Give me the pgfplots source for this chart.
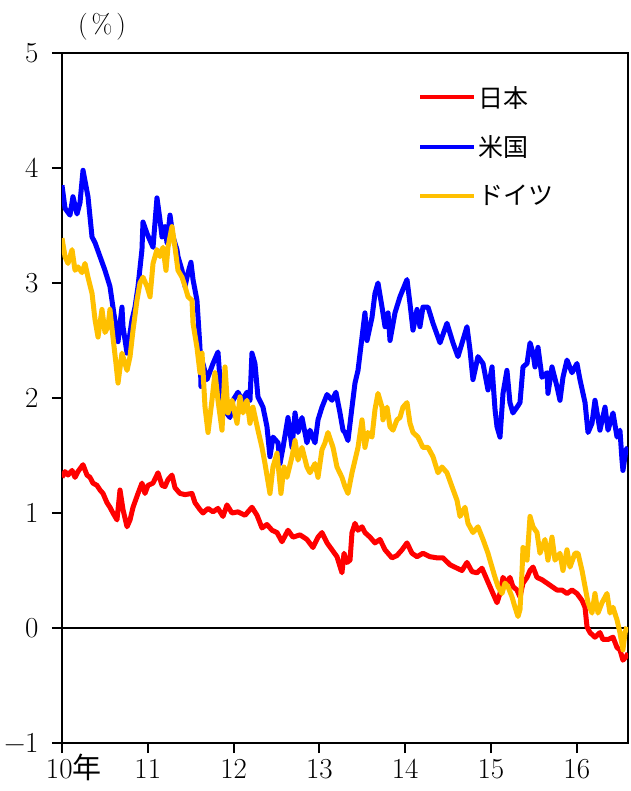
\documentclass[border=0pt]{standalone}
\usepackage{fontspec}
\usepackage{pgfplots}
\pgfplotsset{compat=1.18}
\newfontfamily\cjk{Noto Sans CJK JP}
\definecolor{jpred}{RGB}{255,0,0}
\definecolor{usblue}{RGB}{0,0,255}
\definecolor{deyellow}{RGB}{255,192,0}
\begin{document}
\begin{tikzpicture}
\useasboundingbox (-62pt,-48pt) rectangle (568pt,743pt);
\begin{axis}[
 at={(0pt,0pt)}, anchor=south west,
 scale only axis, width=566pt, height=690pt,
 xmin=10, xmax=16.597, ymin=-1, ymax=5,
 xtick={10,11,12,13,14,15,16},
 xticklabels={{\makebox[0pt][l]{\hspace{-16pt}10{\cjk 年}}},11,12,13,14,15,16},
 ytick={-1,0,1,2,3,4,5},
 yticklabels={−1,0,1,2,3,4,5},
 tick align=outside, tick pos=left,
 major tick length=10pt,
 every tick/.style={black, line width=2pt},
 axis line style={black, line width=2.4pt},
 ticklabel style={font=\fontsize{29}{32}\selectfont},
 yticklabel style={xshift=-10pt},
 xticklabel style={text height=19pt, text depth=0pt, yshift=-3pt},
 legend style={draw=none, fill=none, at={(rel axis cs:0.629,0.955)}, anchor=north west,
   font=\cjk\fontsize{25}{28}\selectfont, row sep=23pt, inner sep=0pt},
 legend cell align=left,
 legend image code/.code={\draw[#1, line width=4pt] (0pt,0pt) -- (54pt,0pt);},
 every axis plot/.append style={line width=5pt, line join=round},
]
\addplot[black, line width=1.6pt, forget plot] coordinates {(10,0) (16.597,0)};
\addplot[jpred] coordinates {
(10.000,1.31) (10.035,1.36) (10.070,1.33) (10.117,1.37) (10.152,1.31) (10.186,1.36) (10.245,1.42) (10.291,1.33) (10.326,1.31) (10.361,1.26) (10.408,1.24) (10.443,1.20) (10.478,1.17) (10.524,1.09) (10.559,1.05) (10.594,1.00) (10.641,0.94) (10.676,1.20) (10.711,1.03) (10.758,0.88) (10.793,0.94) (10.828,1.05) (10.886,1.17) (10.932,1.26) (10.967,1.17) (11.002,1.24) (11.061,1.26) (11.119,1.35) (11.166,1.24) (11.200,1.23) (11.235,1.29) (11.282,1.33) (11.317,1.22) (11.375,1.17) (11.434,1.16) (11.515,1.17) (11.550,1.09) (11.608,1.03) (11.643,1.00) (11.702,1.04) (11.760,1.01) (11.818,1.04) (11.876,0.97) (11.923,1.07) (11.981,1.00) (12.051,1.01) (12.133,0.98) (12.214,1.05) (12.273,0.98) (12.331,0.87) (12.389,0.90) (12.448,0.85) (12.506,0.83) (12.564,0.75) (12.634,0.85) (12.692,0.79) (12.774,0.81) (12.855,0.77) (12.925,0.70) (12.984,0.79) (13.030,0.83) (13.089,0.74) (13.147,0.68) (13.205,0.62) (13.263,0.48) (13.287,0.65) (13.322,0.57) (13.357,0.59) (13.380,0.83) (13.415,0.91) (13.450,0.85) (13.497,0.88) (13.531,0.83) (13.590,0.79) (13.648,0.74) (13.706,0.77) (13.765,0.68) (13.846,0.61) (13.904,0.63) (13.963,0.68) (14.021,0.74) (14.079,0.65) (14.138,0.62) (14.207,0.65) (14.289,0.62) (14.371,0.61) (14.441,0.61) (14.522,0.55) (14.604,0.52) (14.662,0.50) (14.720,0.57) (14.779,0.49) (14.837,0.48) (14.895,0.52) (14.953,0.42) (14.988,0.36) (15.023,0.30) (15.070,0.22) (15.105,0.30) (15.140,0.44) (15.186,0.39) (15.221,0.44) (15.256,0.36) (15.303,0.33) (15.338,0.27) (15.373,0.39) (15.420,0.44) (15.455,0.50) (15.490,0.53) (15.536,0.44) (15.594,0.42) (15.653,0.39) (15.711,0.36) (15.769,0.33) (15.828,0.33) (15.886,0.30) (15.944,0.33) (16.002,0.30) (16.061,0.24) (16.096,0.18) (16.119,0.01) (16.154,-0.04) (16.212,-0.08) (16.270,-0.04) (16.305,-0.10) (16.364,-0.10) (16.422,-0.08) (16.469,-0.17) (16.503,-0.19) (16.538,-0.28) (16.573,-0.25) (16.597,-0.22)
};
\addlegendentry{日本}
\addplot[usblue] coordinates {
(10.000,3.85) (10.035,3.65) (10.093,3.59) (10.128,3.75) (10.175,3.60) (10.210,3.70) (10.245,3.98) (10.303,3.75) (10.350,3.40) (10.385,3.35) (10.443,3.23) (10.501,3.11) (10.559,2.97) (10.594,2.79) (10.653,2.49) (10.699,2.79) (10.711,2.62) (10.758,2.39) (10.816,2.68) (10.851,2.79) (10.886,2.97) (10.932,3.29) (10.944,3.53) (10.991,3.43) (11.026,3.37) (11.061,3.31) (11.107,3.74) (11.142,3.55) (11.166,3.40) (11.200,3.49) (11.224,3.35) (11.259,3.59) (11.294,3.40) (11.340,3.29) (11.352,3.23) (11.399,3.11) (11.434,2.97) (11.469,3.09) (11.503,3.18) (11.527,3.03) (11.573,2.85) (11.608,2.44) (11.620,2.10) (11.643,2.30) (11.690,2.16) (11.760,2.30) (11.818,2.40) (11.865,1.92) (11.958,1.83) (11.993,1.98) (12.051,2.05) (12.098,1.98) (12.156,2.05) (12.191,1.98) (12.214,2.39) (12.249,2.30) (12.284,2.01) (12.343,1.92) (12.389,1.75) (12.424,1.49) (12.459,1.66) (12.518,1.61) (12.541,1.43) (12.576,1.57) (12.634,1.83) (12.681,1.57) (12.716,1.87) (12.751,1.70) (12.797,1.83) (12.855,1.61) (12.890,1.72) (12.949,1.61) (12.984,1.81) (13.030,1.92) (13.089,2.03) (13.147,1.98) (13.193,2.05) (13.240,1.87) (13.275,1.72) (13.298,1.70) (13.333,1.63) (13.380,1.92) (13.415,2.13) (13.450,2.24) (13.497,2.53) (13.531,2.74) (13.555,2.50) (13.613,2.70) (13.648,2.91) (13.683,3.00) (13.730,2.79) (13.765,2.62) (13.800,2.74) (13.823,2.50) (13.881,2.74) (13.939,2.88) (14.021,3.03) (14.056,2.82) (14.091,2.59) (14.138,2.77) (14.172,2.62) (14.207,2.79) (14.266,2.79) (14.324,2.65) (14.406,2.48) (14.487,2.65) (14.557,2.48) (14.615,2.36) (14.720,2.62) (14.755,2.42) (14.790,2.16) (14.848,2.36) (14.907,2.30) (14.965,2.07) (15.012,2.27) (15.047,1.90) (15.070,1.75) (15.105,1.66) (15.140,2.04) (15.186,2.24) (15.221,1.96) (15.256,1.87) (15.303,1.92) (15.338,1.96) (15.373,2.27) (15.420,2.30) (15.455,2.48) (15.490,2.39) (15.513,2.27) (15.548,2.44) (15.594,2.18) (15.653,2.22) (15.664,2.04) (15.711,2.27) (15.769,2.10) (15.804,1.98) (15.839,2.18) (15.886,2.33) (15.944,2.22) (16.002,2.30) (16.037,2.16) (16.096,1.96) (16.131,1.70) (16.177,1.78) (16.212,1.98) (16.270,1.72) (16.329,1.92) (16.364,1.72) (16.422,1.87) (16.469,1.66) (16.503,1.72) (16.527,1.46) (16.538,1.37) (16.573,1.55) (16.597,1.57)
};
\addlegendentry{米国}
\addplot[deyellow] coordinates {
(10.000,3.39) (10.035,3.23) (10.070,3.17) (10.117,3.29) (10.152,3.11) (10.186,3.14) (10.233,3.09) (10.268,3.17) (10.303,3.05) (10.350,2.91) (10.385,2.68) (10.420,2.53) (10.466,2.77) (10.501,2.57) (10.536,2.62) (10.559,2.77) (10.594,2.53) (10.629,2.30) (10.653,2.13) (10.699,2.39) (10.758,2.24) (10.793,2.36) (10.828,2.59) (10.874,2.85) (10.909,3.00) (10.944,3.05) (10.991,2.97) (11.026,2.88) (11.061,3.17) (11.107,3.29) (11.142,3.23) (11.177,3.31) (11.212,3.11) (11.235,3.31) (11.282,3.49) (11.317,3.31) (11.352,3.11) (11.399,3.05) (11.434,2.97) (11.469,2.88) (11.515,2.85) (11.527,2.65) (11.573,2.44) (11.608,2.22) (11.632,2.39) (11.667,1.92) (11.702,1.70) (11.748,1.98) (11.783,2.22) (11.818,1.98) (11.865,1.72) (11.900,2.27) (11.935,1.87) (11.981,1.98) (12.040,1.78) (12.075,2.01) (12.110,1.87) (12.156,1.98) (12.191,1.78) (12.226,1.92) (12.284,1.72) (12.331,1.57) (12.366,1.43) (12.424,1.17) (12.459,1.40) (12.506,1.52) (12.552,1.17) (12.587,1.40) (12.622,1.31) (12.681,1.49) (12.716,1.63) (12.751,1.46) (12.797,1.57) (12.855,1.40) (12.890,1.35) (12.949,1.43) (12.984,1.31) (13.030,1.55) (13.065,1.61) (13.100,1.70) (13.159,1.57) (13.205,1.40) (13.263,1.31) (13.298,1.23) (13.333,1.17) (13.380,1.35) (13.415,1.46) (13.450,1.57) (13.497,1.81) (13.531,1.57) (13.566,1.70) (13.613,1.66) (13.648,1.90) (13.683,2.04) (13.730,1.92) (13.741,1.81) (13.788,1.92) (13.823,1.75) (13.858,1.72) (13.904,1.81) (13.939,1.83) (13.974,1.92) (14.021,1.96) (14.056,1.78) (14.091,1.70) (14.149,1.66) (14.207,1.57) (14.266,1.57) (14.324,1.49) (14.382,1.35) (14.429,1.40) (14.487,1.35) (14.545,1.23) (14.604,1.11) (14.639,0.97) (14.697,1.05) (14.732,0.91) (14.790,0.83) (14.848,0.88) (14.907,0.77) (14.965,0.65) (14.988,0.59) (15.047,0.44) (15.082,0.36) (15.128,0.30) (15.163,0.39) (15.198,0.36) (15.245,0.27) (15.280,0.18) (15.315,0.10) (15.338,0.16) (15.361,0.48) (15.373,0.70) (15.420,0.59) (15.455,0.97) (15.490,0.88) (15.536,0.83) (15.571,0.65) (15.629,0.77) (15.664,0.59) (15.711,0.79) (15.746,0.59) (15.804,0.65) (15.839,0.50) (15.886,0.68) (15.921,0.53) (15.979,0.65) (16.014,0.65) (16.061,0.50) (16.096,0.36) (16.131,0.22) (16.177,0.13) (16.212,0.30) (16.247,0.13) (16.294,0.22) (16.352,0.30) (16.387,0.13) (16.422,0.18) (16.469,0.07) (16.503,-0.04) (16.538,-0.19) (16.562,-0.04) (16.585,0.01)
};
\addlegendentry{ドイツ}
\end{axis}
\node[font=\fontsize{27}{30}\selectfont] at (40pt,716pt) {(\kern4pt\%\kern4pt)};
\end{tikzpicture}
\end{document}
